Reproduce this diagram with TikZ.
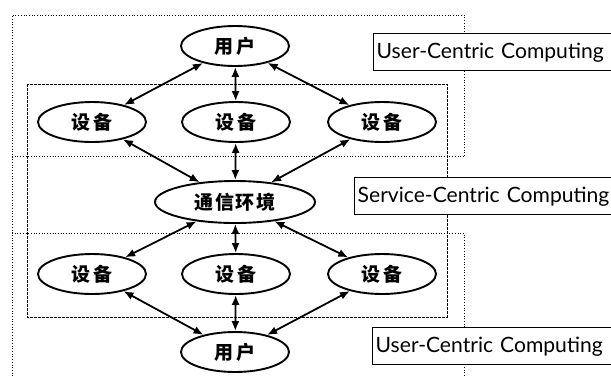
\documentclass[tikz,border=0pt]{standalone}
\usepackage{fontspec}
\setmainfont{Lato}
\newfontfamily\cjk{Noto Sans CJK SC}
\usetikzlibrary{shapes.geometric,arrows.meta}
\begin{document}
\begin{tikzpicture}[x=1pt,y=-1pt,
  ell/.style={draw, ellipse, line width=1.9pt, minimum width=108pt, minimum height=40pt, inner sep=0pt,
    fill=white, font=\cjk\bfseries\fontsize{19}{19}\selectfont},
  link/.style={{Latex[length=10pt,width=8pt]}-{Latex[length=10pt,width=8pt]}, line width=1.8pt},
  lab/.style={draw, fill=white, line width=1.4pt, anchor=north west, minimum height=37pt, text width=250pt,
    inner xsep=3pt, inner ysep=0pt, align=left, font=\fontsize{21.1}{21.1}\selectfont},
  outerbox/.style={line width=0.7pt, dotted},
  innerbox/.style={line width=0.8pt, dash pattern=on 3pt off 1pt}
]
\useasboundingbox (0,0) rectangle (611,376);
% region boxes
\draw[outerbox] (12,376) -- (12,15) -- (464,15) -- (464,156);
\draw[outerbox] (12,156) -- (464,156);
\draw[outerbox] (12,233) -- (464,233) -- (464,376);
\draw[innerbox] (27,84) rectangle (447,317);
% nodes
\node[ell] (u1) at (235,46) {用\hspace{4pt}户};
\node[ell] (d1) at (92,122) {设\hspace{4pt}备};
\node[ell] (d2) at (236,122) {设\hspace{4pt}备};
\node[ell] (d3) at (382,122) {设\hspace{4pt}备};
\node[ell, minimum width=160pt, minimum height=42pt] (c) at (235,202) {通\hspace{1.5pt}信\hspace{1.5pt}环\hspace{1.5pt}境};
\node[ell] (e1) at (92,274) {设\hspace{4pt}备};
\node[ell] (e2) at (236,274) {设\hspace{4pt}备};
\node[ell] (e3) at (382,274) {设\hspace{4pt}备};
\node[ell] (u2) at (235,352) {用\hspace{4pt}户};
% labels
\node[lab] (l1) at (373,33) {User-Centric Computing};
\node[lab, text width=270pt] (l2) at (354,177) {Service-Centric Computing};
\node[lab] (l3) at (372,327) {User-Centric Computing};
% connectors
\foreach \n in {d1,d2,d3} {\draw[link] (u1) -- (\n); \draw[link] (\n) -- (c);}
\foreach \n in {e1,e2,e3} {\draw[link] (c) -- (\n); \draw[link] (\n) -- (u2);}
\end{tikzpicture}
\end{document}
